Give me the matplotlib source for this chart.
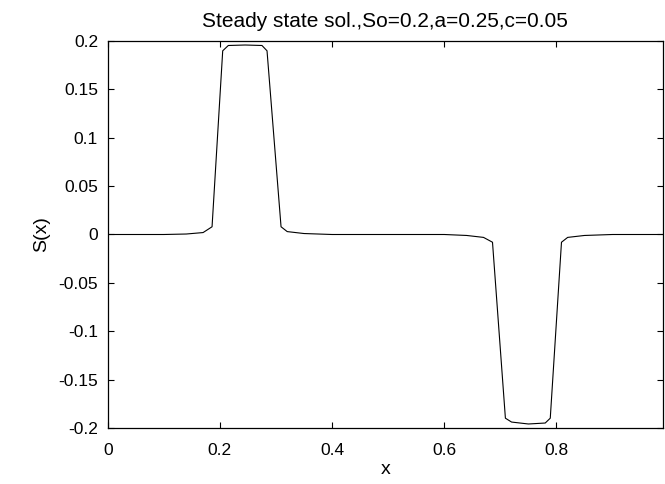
import matplotlib
matplotlib.use("Agg")
import matplotlib.pyplot as plt

plt.rcParams['font.family'] = ['Liberation Sans', 'DejaVu Sans']

# breakpoints of the steady-state profile
x_vals = [0.0, 0.10, 0.14, 0.17, 0.186, 0.205, 0.215, 0.245, 0.275, 0.284,
          0.309, 0.32, 0.35, 0.40, 0.60, 0.64, 0.67, 0.686, 0.709, 0.72,
          0.75, 0.78, 0.789, 0.809, 0.82, 0.85, 0.90, 0.99]
s_vals = [0.0, 0.0, 0.0005, 0.002, 0.008, 0.19, 0.1955, 0.196, 0.1955, 0.19,
          0.008, 0.003, 0.001, 0.0, 0.0, -0.001, -0.003, -0.008, -0.19, -0.194,
          -0.196, -0.195, -0.19, -0.008, -0.003, -0.001, 0.0, 0.0]

x_ticks = [0, 0.2, 0.4, 0.6, 0.8]
x_labels = ['0', '0.2', '0.4', '0.6', '0.8']
y_ticks = [-0.2, -0.15, -0.1, -0.05, 0, 0.05, 0.1, 0.15, 0.2]
y_labels = ['-0.2', '-0.15', '-0.1', '-0.05', '0', '0.05', '0.1', '0.15', '0.2']

fig = plt.figure(figsize=(6.65, 4.84), dpi=100)
ax = fig.add_axes([0.162, 0.116, 0.835, 0.799])

ax.plot(x_vals, s_vals, color='black', linewidth=0.8)

ax.set_xlim(0, 0.99)
ax.set_ylim(-0.2, 0.2)
ax.set_xticks(x_ticks)
ax.set_xticklabels(x_labels)
ax.set_yticks(y_ticks)
ax.set_yticklabels(y_labels)
ax.tick_params(direction='in', length=4, width=0.8, top=True, right=True,
               labelsize=12.5)
ax.tick_params(axis='x', pad=11)
ax.tick_params(axis='y', pad=7)
for sp in ax.spines.values():
    sp.set_linewidth(0.9)

ax.set_title('Steady state sol.,So=0.2,a=0.25,c=0.05', fontsize=15, pad=10)
ax.set_xlabel('x', fontsize=14, labelpad=2)
ax.set_ylabel('S(x)', fontsize=14, labelpad=6)

fig.savefig('out.png', dpi=100)
